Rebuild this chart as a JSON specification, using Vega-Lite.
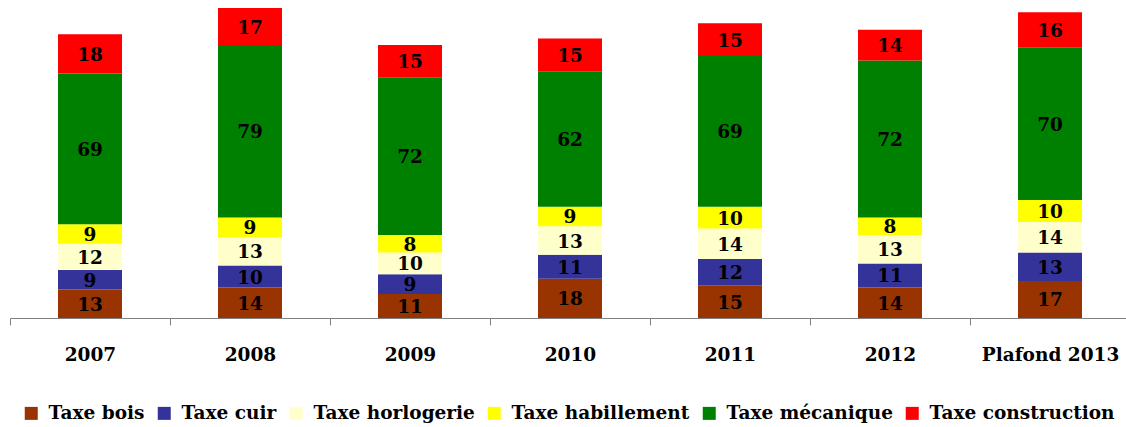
{
  "$schema": "https://vega.github.io/schema/vega-lite/v6.json",
  "autosize": {"type": "none"},
  "width": 1116,
  "height": 310,
  "padding": {"left": 10, "top": 8, "right": 0, "bottom": 109},
  "background": "white",
  "config": {"view": {"stroke": null}, "font": "DejaVu Serif"},
  "data": {"values": [
    {"year": "2007", "tax": "Taxe bois", "value": 13},
    {"year": "2007", "tax": "Taxe cuir", "value": 9},
    {"year": "2007", "tax": "Taxe horlogerie", "value": 12},
    {"year": "2007", "tax": "Taxe habillement", "value": 9},
    {"year": "2007", "tax": "Taxe mécanique", "value": 69},
    {"year": "2007", "tax": "Taxe construction", "value": 18},
    {"year": "2008", "tax": "Taxe bois", "value": 14},
    {"year": "2008", "tax": "Taxe cuir", "value": 10},
    {"year": "2008", "tax": "Taxe horlogerie", "value": 13},
    {"year": "2008", "tax": "Taxe habillement", "value": 9},
    {"year": "2008", "tax": "Taxe mécanique", "value": 79},
    {"year": "2008", "tax": "Taxe construction", "value": 17},
    {"year": "2009", "tax": "Taxe bois", "value": 11},
    {"year": "2009", "tax": "Taxe cuir", "value": 9},
    {"year": "2009", "tax": "Taxe horlogerie", "value": 10},
    {"year": "2009", "tax": "Taxe habillement", "value": 8},
    {"year": "2009", "tax": "Taxe mécanique", "value": 72},
    {"year": "2009", "tax": "Taxe construction", "value": 15},
    {"year": "2010", "tax": "Taxe bois", "value": 18},
    {"year": "2010", "tax": "Taxe cuir", "value": 11},
    {"year": "2010", "tax": "Taxe horlogerie", "value": 13},
    {"year": "2010", "tax": "Taxe habillement", "value": 9},
    {"year": "2010", "tax": "Taxe mécanique", "value": 62},
    {"year": "2010", "tax": "Taxe construction", "value": 15},
    {"year": "2011", "tax": "Taxe bois", "value": 15},
    {"year": "2011", "tax": "Taxe cuir", "value": 12},
    {"year": "2011", "tax": "Taxe horlogerie", "value": 14},
    {"year": "2011", "tax": "Taxe habillement", "value": 10},
    {"year": "2011", "tax": "Taxe mécanique", "value": 69},
    {"year": "2011", "tax": "Taxe construction", "value": 15},
    {"year": "2012", "tax": "Taxe bois", "value": 14},
    {"year": "2012", "tax": "Taxe cuir", "value": 11},
    {"year": "2012", "tax": "Taxe horlogerie", "value": 13},
    {"year": "2012", "tax": "Taxe habillement", "value": 8},
    {"year": "2012", "tax": "Taxe mécanique", "value": 72},
    {"year": "2012", "tax": "Taxe construction", "value": 14},
    {"year": "Plafond 2013", "tax": "Taxe bois", "value": 17},
    {"year": "Plafond 2013", "tax": "Taxe cuir", "value": 13},
    {"year": "Plafond 2013", "tax": "Taxe horlogerie", "value": 14},
    {"year": "Plafond 2013", "tax": "Taxe habillement", "value": 10},
    {"year": "Plafond 2013", "tax": "Taxe mécanique", "value": 70},
    {"year": "Plafond 2013", "tax": "Taxe construction", "value": 16}
  ]},
  "transform": [
    {"calculate": "indexof(['Taxe bois','Taxe cuir','Taxe horlogerie','Taxe habillement','Taxe mécanique','Taxe construction'], datum.tax)", "as": "k"},
    {"stack": "value", "groupby": ["year"], "sort": [{"field": "k", "order": "ascending"}], "as": ["y0", "y1"]},
    {"calculate": "(datum.y0 + datum.y1) / 2", "as": "ym"}
  ],
  "encoding": {
    "x": {
      "field": "year", "type": "nominal", "title": null,
      "scale": {"range": [0, 1120], "paddingInner": 0, "paddingOuter": 0},
      "axis": {
        "labelAngle": 0, "labelFont": "DejaVu Serif", "labelFontWeight": "bold",
        "labelFontSize": 18.5, "labelColor": "#000000", "labelPadding": 20,
        "tickBand": "extent", "tickSize": 7, "tickColor": "#808080",
        "domainColor": "#808080", "domainWidth": 1, "labelBaseline": "top"
      }
    }
  },
  "layer": [
    {
      "mark": {"type": "bar", "width": {"band": 0.4}},
      "encoding": {
        "y": {"field": "y0", "type": "quantitative", "scale": {"domain": [0, 142], "nice": false, "zero": true}, "axis": null},
        "y2": {"field": "y1"},
        "color": {
          "field": "tax", "type": "nominal", "title": null,
          "scale": {
            "domain": ["Taxe bois", "Taxe cuir", "Taxe horlogerie", "Taxe habillement", "Taxe mécanique", "Taxe construction"],
            "range": ["#993300", "#333399", "#FFFFCC", "#FFFF00", "#008000", "#FF0000"]
          },
          "legend": {
            "orient": "none", "legendX": 12, "legendY": 396, "direction": "horizontal",
            "symbolType": "square", "symbolSize": 169, "symbolStrokeWidth": 0, "symbolOpacity": 1,
            "labelFont": "DejaVu Serif", "labelFontWeight": "bold", "labelFontSize": 18.5,
            "labelColor": "#000000", "labelOffset": 8, "columnPadding": 10, "labelLimit": 400
          }
        }
      }
    },
    {
      "mark": {"type": "text", "font": "DejaVu Serif", "fontWeight": "bold", "fontSize": 18.5, "color": "#000000", "baseline": "middle", "dy": 1},
      "encoding": {
        "y": {"field": "ym", "type": "quantitative"},
        "text": {"field": "value", "type": "quantitative"}
      }
    }
  ]
}
